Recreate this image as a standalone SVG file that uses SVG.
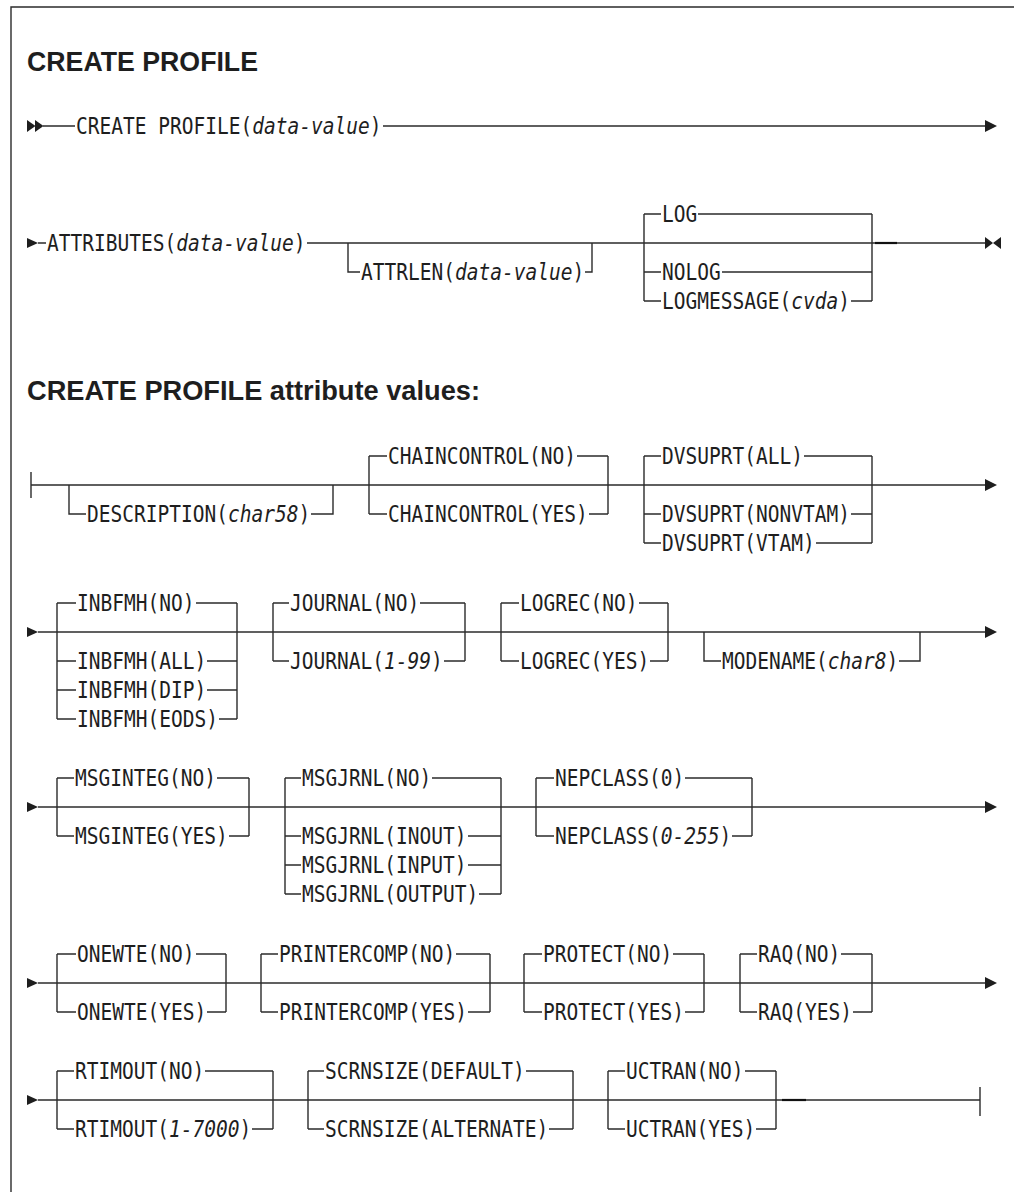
<svg xmlns="http://www.w3.org/2000/svg" width="1014" height="1192" viewBox="0 0 1014 1192">
<style>
.t{font-family:"DejaVu Sans Mono","Liberation Mono",monospace;font-size:22.5px;fill:#1e1e1e}
.i{font-style:italic}
.h{font-family:"Liberation Sans",Arial,sans-serif;font-weight:bold;font-size:27px;fill:#1e1e1e}
.c{fill:none;stroke:#2b2b2b;stroke-width:1.4}
.d{fill:none;stroke:#111;stroke-width:2.2}
.a{fill:#1e1e1e}
</style>
<rect width="1014" height="1192" fill="#fff"/>
<path class="c" d="M11 1192V7H1014"/>
<g id="titles">
<text class="h" x="27" y="70.5" textLength="231" lengthAdjust="spacingAndGlyphs">CREATE PROFILE</text>
<text class="h" x="27" y="400" textLength="453" lengthAdjust="spacingAndGlyphs">CREATE PROFILE attribute values:</text>
</g>
<g id="connectors">
<!-- row 1 -->
<polygon class="a" points="27,120 35.5,126 27,132"/>
<polygon class="a" points="35,120 43.5,126 35,132"/>
<path class="c" d="M43 126H75 M383 126H985"/>
<polygon class="a" points="985,120 997,126 985,132"/>
<!-- row 2 -->
<polygon class="a" points="27,238 38,243 27,248"/>
<path class="c" d="M38 243H46 M307 243H875 M897 243H985"/>
<path class="c" d="M348 243V272H360 M585 272H592V243"/>
<path class="c" d="M644 214V301 M872 214V301 M644 214H661 M698 214H872 M644 272H661 M722 272H872 M644 301H661 M851 301H872"/>
<path class="d" d="M875 243H897"/>
<polygon class="a" points="985,237 993,243 985,249"/>
<polygon class="a" points="1001,237 993,243 1001,249"/>
<!-- row 3 -->
<path class="c" d="M31 472V498 M31 485H985"/>
<path class="c" d="M69 485V514H86 M311 514H333V485"/>
<path class="c" d="M369 456V514 M608 456V514 M369 456H387 M577 456H608 M369 514H387 M589 514H608"/>
<path class="c" d="M644 456V543 M872 456V543 M644 456H661 M804 456H872 M644 514H661 M851 514H872 M644 543H661 M816 543H872"/>
<polygon class="a" points="985,479 997,485 985,491"/>
<!-- row 4 -->
<polygon class="a" points="27,627 38,632 27,637"/>
<path class="c" d="M38 632H985"/>
<path class="c" d="M57 603V719 M237 603V719 M57 603H76 M196 603H237 M57 661H76 M207 661H237 M57 690H76 M207 690H237 M57 719H76 M219 719H237"/>
<path class="c" d="M273 603V661 M465 603V661 M273 603H289 M420 603H465 M273 661H289 M444 661H465"/>
<path class="c" d="M501 603V661 M668 603V661 M501 603H519 M639 603H668 M501 661H519 M650 661H668"/>
<path class="c" d="M704 632V661H721 M899 661H920V632"/>
<polygon class="a" points="985,626 997,632 985,638"/>
<!-- row 5 -->
<polygon class="a" points="27,802 38,807 27,812"/>
<path class="c" d="M38 807H985"/>
<path class="c" d="M57 778V836 M249 778V836 M57 778H74 M217 778H249 M57 836H74 M229 836H249"/>
<path class="c" d="M285 778V894 M501 778V894 M285 778H301 M432 778H501 M285 836H301 M468 836H501 M285 865H301 M468 865H501 M285 894H301 M479 894H501"/>
<path class="c" d="M536 778V836 M752 778V836 M536 778H554 M685 778H752 M536 836H554 M732 836H752"/>
<polygon class="a" points="985,801 997,807 985,813"/>
<!-- row 6 -->
<polygon class="a" points="27,978 38,983 27,988"/>
<path class="c" d="M38 983H985"/>
<path class="c" d="M57 954V1012 M226 954V1012 M57 954H76 M196 954H226 M57 1012H76 M207 1012H226"/>
<path class="c" d="M261 954V1012 M490 954V1012 M261 954H278 M456 954H490 M261 1012H278 M468 1012H490"/>
<path class="c" d="M524 954V1012 M704 954V1012 M524 954H542 M673 954H704 M524 1012H542 M685 1012H704"/>
<path class="c" d="M740 954V1012 M872 954V1012 M740 954H757 M841 954H872 M740 1012H757 M853 1012H872"/>
<polygon class="a" points="985,977 997,983 985,989"/>
<!-- row 7 -->
<polygon class="a" points="27,1095 38,1100 27,1105"/>
<path class="c" d="M38 1100H782 M806 1100H980 M980 1087V1116"/>
<path class="d" d="M782 1100H806"/>
<path class="c" d="M57 1071V1129 M273 1071V1129 M57 1071H74 M205 1071H273 M57 1129H74 M252 1129H273"/>
<path class="c" d="M308 1071V1129 M573 1071V1129 M308 1071H324 M526 1071H573 M308 1129H324 M549 1129H573"/>
<path class="c" d="M608 1071V1129 M776 1071V1129 M608 1071H625 M745 1071H776 M608 1129H625 M756 1129H776"/>
</g>
<g id="create-profile"><text class="t" x="76" y="134" textLength="305.5" lengthAdjust="spacingAndGlyphs">CREATE PROFILE(<tspan class="i">data-value</tspan>)</text></g>
<g id="attributes"><text class="t" x="47" y="251" textLength="258.5" lengthAdjust="spacingAndGlyphs">ATTRIBUTES(<tspan class="i">data-value</tspan>)</text></g>
<g id="attrlen"><text class="t" x="361" y="280" textLength="223.25" lengthAdjust="spacingAndGlyphs">ATTRLEN(<tspan class="i">data-value</tspan>)</text></g>
<g id="log">
<text class="t" x="662" y="222" textLength="35.25" lengthAdjust="spacingAndGlyphs">LOG</text>
<text class="t" x="662" y="280" textLength="58.75" lengthAdjust="spacingAndGlyphs">NOLOG</text>
<text class="t" x="662" y="309" textLength="188" lengthAdjust="spacingAndGlyphs">LOGMESSAGE(<tspan class="i">cvda</tspan>)</text>
</g>
<g id="description"><text class="t" x="87" y="522" textLength="223.25" lengthAdjust="spacingAndGlyphs">DESCRIPTION(<tspan class="i">char58</tspan>)</text></g>
<g id="chaincontrol">
<text class="t" x="388" y="464" textLength="188" lengthAdjust="spacingAndGlyphs">CHAINCONTROL(NO)</text>
<text class="t" x="388" y="522" textLength="199.75" lengthAdjust="spacingAndGlyphs">CHAINCONTROL(YES)</text>
</g>
<g id="dvsuprt">
<text class="t" x="662" y="464" textLength="141" lengthAdjust="spacingAndGlyphs">DVSUPRT(ALL)</text>
<text class="t" x="662" y="522" textLength="188" lengthAdjust="spacingAndGlyphs">DVSUPRT(NONVTAM)</text>
<text class="t" x="662" y="551" textLength="152.75" lengthAdjust="spacingAndGlyphs">DVSUPRT(VTAM)</text>
</g>
<g id="inbfmh">
<text class="t" x="77" y="611" textLength="117.5" lengthAdjust="spacingAndGlyphs">INBFMH(NO)</text>
<text class="t" x="77" y="669" textLength="129.25" lengthAdjust="spacingAndGlyphs">INBFMH(ALL)</text>
<text class="t" x="77" y="698" textLength="129.25" lengthAdjust="spacingAndGlyphs">INBFMH(DIP)</text>
<text class="t" x="77" y="727" textLength="141" lengthAdjust="spacingAndGlyphs">INBFMH(EODS)</text>
</g>
<g id="journal">
<text class="t" x="290" y="611" textLength="129.25" lengthAdjust="spacingAndGlyphs">JOURNAL(NO)</text>
<text class="t" x="290" y="669" textLength="152.75" lengthAdjust="spacingAndGlyphs">JOURNAL(<tspan class="i">1-99</tspan>)</text>
</g>
<g id="logrec">
<text class="t" x="520" y="611" textLength="117.5" lengthAdjust="spacingAndGlyphs">LOGREC(NO)</text>
<text class="t" x="520" y="669" textLength="129.25" lengthAdjust="spacingAndGlyphs">LOGREC(YES)</text>
</g>
<g id="modename"><text class="t" x="722" y="669" textLength="176.25" lengthAdjust="spacingAndGlyphs">MODENAME(<tspan class="i">char8</tspan>)</text></g>
<g id="msginteg">
<text class="t" x="75" y="786" textLength="141" lengthAdjust="spacingAndGlyphs">MSGINTEG(NO)</text>
<text class="t" x="75" y="844" textLength="152.75" lengthAdjust="spacingAndGlyphs">MSGINTEG(YES)</text>
</g>
<g id="msgjrnl">
<text class="t" x="302" y="786" textLength="129.25" lengthAdjust="spacingAndGlyphs">MSGJRNL(NO)</text>
<text class="t" x="302" y="844" textLength="164.5" lengthAdjust="spacingAndGlyphs">MSGJRNL(INOUT)</text>
<text class="t" x="302" y="873" textLength="164.5" lengthAdjust="spacingAndGlyphs">MSGJRNL(INPUT)</text>
<text class="t" x="302" y="902" textLength="176.25" lengthAdjust="spacingAndGlyphs">MSGJRNL(OUTPUT)</text>
</g>
<g id="nepclass">
<text class="t" x="555" y="786" textLength="129.25" lengthAdjust="spacingAndGlyphs">NEPCLASS(0)</text>
<text class="t" x="555" y="844" textLength="176.25" lengthAdjust="spacingAndGlyphs">NEPCLASS(<tspan class="i">0-255</tspan>)</text>
</g>
<g id="onewte">
<text class="t" x="77" y="962" textLength="117.5" lengthAdjust="spacingAndGlyphs">ONEWTE(NO)</text>
<text class="t" x="77" y="1020" textLength="129.25" lengthAdjust="spacingAndGlyphs">ONEWTE(YES)</text>
</g>
<g id="printercomp">
<text class="t" x="279" y="962" textLength="176.25" lengthAdjust="spacingAndGlyphs">PRINTERCOMP(NO)</text>
<text class="t" x="279" y="1020" textLength="188" lengthAdjust="spacingAndGlyphs">PRINTERCOMP(YES)</text>
</g>
<g id="protect">
<text class="t" x="543" y="962" textLength="129.25" lengthAdjust="spacingAndGlyphs">PROTECT(NO)</text>
<text class="t" x="543" y="1020" textLength="141" lengthAdjust="spacingAndGlyphs">PROTECT(YES)</text>
</g>
<g id="raq">
<text class="t" x="758" y="962" textLength="82.25" lengthAdjust="spacingAndGlyphs">RAQ(NO)</text>
<text class="t" x="758" y="1020" textLength="94" lengthAdjust="spacingAndGlyphs">RAQ(YES)</text>
</g>
<g id="rtimout">
<text class="t" x="75" y="1079" textLength="129.25" lengthAdjust="spacingAndGlyphs">RTIMOUT(NO)</text>
<text class="t" x="75" y="1137" textLength="176.25" lengthAdjust="spacingAndGlyphs">RTIMOUT(<tspan class="i">1-7000</tspan>)</text>
</g>
<g id="scrnsize">
<text class="t" x="325" y="1079" textLength="199.75" lengthAdjust="spacingAndGlyphs">SCRNSIZE(DEFAULT)</text>
<text class="t" x="325" y="1137" textLength="223.25" lengthAdjust="spacingAndGlyphs">SCRNSIZE(ALTERNATE)</text>
</g>
<g id="uctran">
<text class="t" x="626" y="1079" textLength="117.5" lengthAdjust="spacingAndGlyphs">UCTRAN(NO)</text>
<text class="t" x="626" y="1137" textLength="129.25" lengthAdjust="spacingAndGlyphs">UCTRAN(YES)</text>
</g>
</svg>
